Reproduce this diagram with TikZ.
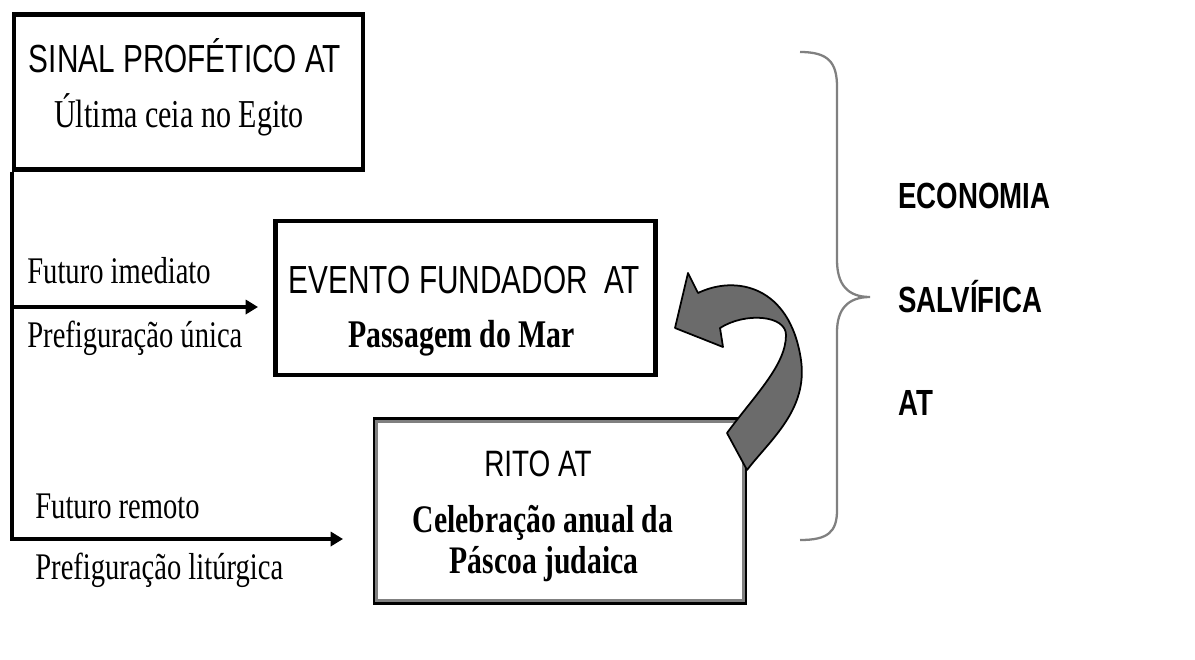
\documentclass[tikz,border=0pt]{standalone}
\usepackage{fontspec}
\newfontfamily\serifa{Liberation Serif}[FakeStretch=0.76]
\newfontfamily\sansa{Liberation Sans}[FakeStretch=0.76]
\usetikzlibrary{arrows.meta}
\tikzset{
	caixa/.style={draw=black, line width=2.4pt, fill=white, shape=rectangle},
	titulo/.style={anchor=base, inner sep=0pt, font=\sansa\fontsize{22.3}{26}\selectfont},
	texto/.style={anchor=base, inner sep=0pt, font=\serifa\fontsize{22.5}{26}\selectfont},
	rotulo/.style={anchor=base west, inner sep=0pt, font=\serifa\fontsize{21.4}{26}\selectfont},
	economia/.style={anchor=base west, inner sep=0pt, font=\sansa\bfseries\fontsize{20.7}{24}\selectfont},
	seta/.style={line width=2.2pt, -{Triangle[length=7pt,width=8pt]}}
}

\begin{document}
\begin{tikzpicture}[x=0.02cm, y=-0.02cm]
	\useasboundingbox (0,0) rectangle (1195,659);
	% caixas
	\node [caixa, minimum width=6.98cm, minimum height=3.1cm] (sinal) at (188.5, 92) {};
	\node [caixa, minimum width=7.6cm, minimum height=3.08cm] (evento) at (465.5, 298) {};
	\node [caixa, minimum width=7.41cm, minimum height=3.66cm] (rito) at (560, 511) {};
	\draw [gray, line width=1.6pt] ([shift={(4,-4)}]rito.south west) rectangle ([shift={(-4,4)}]rito.north east);
	% textos das caixas
	\node [titulo] (sinalA) at (185, 72) {SINAL PROFÉTICO AT};
	\node [texto] (sinalB) at (179, 127) {Última ceia no Egito};
	\node [titulo] (eventoA) at (464.5, 293) {EVENTO FUNDADOR \ AT};
	\node [texto, font=\serifa\bfseries\fontsize{22.3}{26}\selectfont] (eventoB) at (461.5, 347) {Passagem do Mar};
	\node [titulo, font=\sansa\fontsize{20.9}{26}\selectfont] (ritoA) at (538, 476) {RITO AT};
	\node [texto, font=\serifa\bfseries\fontsize{22.2}{26}\selectfont] (ritoB) at (543, 532) {Celebração anual da};
	\node [texto, font=\serifa\bfseries\fontsize{22.2}{26}\selectfont] (ritoC) at (544, 573) {Páscoa judaica};
	% linhas do tempo
	\coordinate (imediato) at (258, 307);
	\coordinate (remoto) at (343, 539);
	\draw [seta] (sinal.south west) |- (remoto);
	\draw [seta] (sinal.south west |- imediato) -- (imediato);
	\node [rotulo] (fi) at (27, 283) {Futuro imediato};
	\node [rotulo] (pu) at (27, 347) {Prefiguração única};
	\node [rotulo] (fr) at (35, 518) {Futuro remoto};
	\node [rotulo] (pl) at (35, 579) {Prefiguração litúrgica};
	% seta curva
	\draw [fill=black!58, draw=black, line width=1pt, line join=round]
		(727, 433) .. controls (755, 395) and (786, 365) .. (786, 335)
		.. controls (786, 315) and (745, 312) .. (720, 328)
		-- (723, 347) -- (675, 328) -- (688, 273) -- (698, 293)
		.. controls (735, 275) and (790, 285) .. (801, 360)
		.. controls (808, 410) and (770, 440) .. (747, 470) -- cycle;
	% chave
	\draw [gray, line width=1.3pt] (800, 52) .. controls (828, 52) and (837, 62) .. (837, 87)
		-- (837, 260) .. controls (837, 285) and (848, 297) .. (870, 297)
		.. controls (848, 297) and (837, 309) .. (837, 332)
		-- (837, 510) .. controls (837, 532) and (828, 540) .. (800, 540);
	\node [economia] (eco) at (898, 208) {ECONOMIA};
	\node [economia] (sal) at (898, 312) {SALVÍFICA};
	\node [economia] (at) at (898, 415) {AT};
\end{tikzpicture}
\end{document}
